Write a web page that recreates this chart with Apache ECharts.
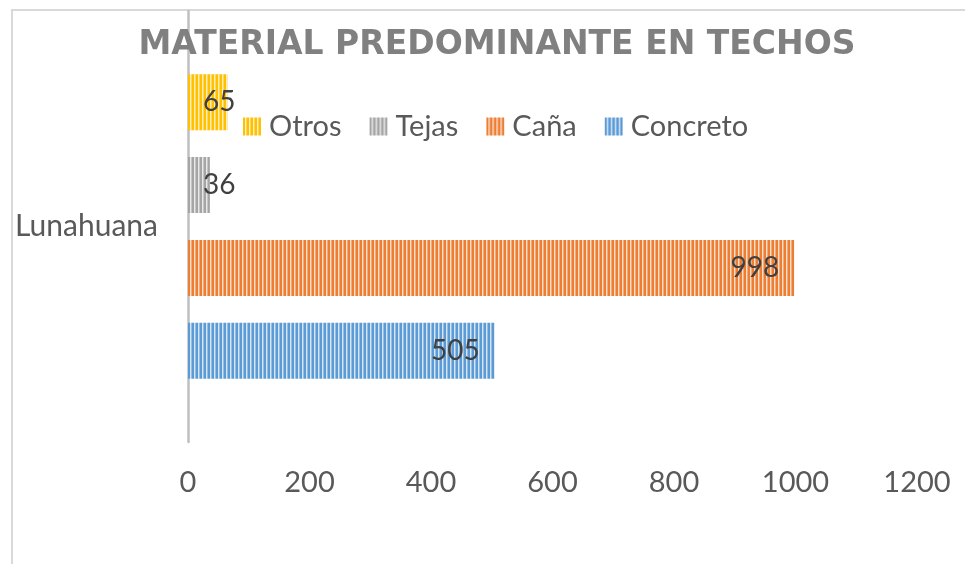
<!DOCTYPE html>
<html>
<head>
<meta charset="utf-8">
<script src="https://cdn.jsdelivr.net/npm/echarts@6/dist/echarts.min.js"></script>
<style>
  html, body { margin: 0; padding: 0; background: #ffffff; }
  #chart { width: 965px; height: 564px; }
</style>
</head>
<body>
<div id="chart"></div>
<script>
// Roof material counts for the district
const categories = ['Lunahuana'];
// listed top to bottom
const seriesNames = ['Otros', 'Tejas', 'Caña', 'Concreto'];
const concreto = [505];
const cana = [998];
const tejas = [36];
const otros = [65];
const legendOrder = ['Otros', 'Tejas', 'Caña', 'Concreto'];
const axisMin = 0;
const axisMax = 1200;
const axisStep = 200;

// Styling
const baseColors = {
  'Concreto': '#5B9BD5',
  'Caña': '#ED7D31',
  'Tejas': '#A5A5A5',
  'Otros': '#FFC000'
};
const FONT = 'Lato';
const TEXT_GREY = '#595959';

function mix(hex, t) {
  const n = parseInt(hex.slice(1), 16);
  const r = (n >> 16) & 255, g = (n >> 8) & 255, b = n & 255;
  const f = c => Math.round(c + (255 - c) * t);
  return 'rgb(' + f(r) + ',' + f(g) + ',' + f(b) + ')';
}

// Vertical stripe fill, similar to a dark-vertical pattern fill
function stripes(hex) {
  const c = document.createElement('canvas');
  c.width = 4; c.height = 4;
  const ctx = c.getContext('2d');
  const cols = [hex, hex, mix(hex, 0.75), mix(hex, 0.35)];
  cols.forEach((col, i) => { ctx.fillStyle = col; ctx.fillRect(i, 0, 1, 4); });
  return { image: c, repeat: 'repeat' };
}

const values = { 'Concreto': concreto, 'Caña': cana, 'Tejas': tejas, 'Otros': otros };

const chart = echarts.init(document.getElementById('chart'), null, { renderer: 'canvas' });

const series = seriesNames.map(name => ({
  name: name,
  type: 'bar',
  data: values[name].map(v => ({
    value: v,
    label: {
      // short bars get their label just past the axis
      position: v < 100 ? 'insideLeft' : 'insideRight'
    }
  })),
  barWidth: 56,
  barGap: '48%',
  itemStyle: { color: stripes(baseColors[name]) },
  label: {
    show: true,
    distance: 15,
    fontFamily: FONT,
    fontSize: 28,
    color: '#404040'
  },
  emphasis: { disabled: true }
}));

chart.setOption({
  animation: false,
  backgroundColor: '#ffffff',
  title: {
    text: 'MATERIAL PREDOMINANTE EN TECHOS',
    left: 492,
    textAlign: 'center',
    top: 24,
    textStyle: {
      fontFamily: 'DejaVu Sans',
      fontWeight: 'bold',
      fontSize: 33,
      color: '#808080'
    }
  },
  legend: {
    data: legendOrder,
    left: 238,
    top: 107,
    z: 10,
    icon: 'rect',
    itemWidth: 18,
    itemHeight: 18,
    itemGap: 28,
    textStyle: {
      fontFamily: FONT,
      fontSize: 29,
      color: TEXT_GREY,
      padding: [0, 0, 0, 3]
    }
  },
  graphic: [{
    type: 'rect',
    silent: true,
    z: -1,
    shape: { x: 12, y: 10, width: 1000, height: 600 },
    style: { fill: 'none', stroke: '#d9d9d9', lineWidth: 2 }
  }],
  grid: {
    left: 188,
    right: 48,
    top: 11,
    bottom: 122,
    containLabel: false
  },
  xAxis: {
    type: 'value',
    min: axisMin,
    max: axisMax,
    interval: axisStep,
    axisLine: { show: false },
    axisTick: { show: false },
    splitLine: { show: false },
    axisLabel: {
      margin: 26,
      fontFamily: FONT,
      fontSize: 29,
      color: TEXT_GREY,
      formatter: v => String(v)
    }
  },
  yAxis: {
    type: 'category',
    data: categories,
    axisLine: { show: true, lineStyle: { color: '#bfbfbf', width: 2.5 } },
    axisTick: { show: false },
    axisLabel: {
      margin: 30,
      fontFamily: FONT,
      fontSize: 30,
      color: TEXT_GREY
    }
  },
  series: series
});
</script>
</body>
</html>
